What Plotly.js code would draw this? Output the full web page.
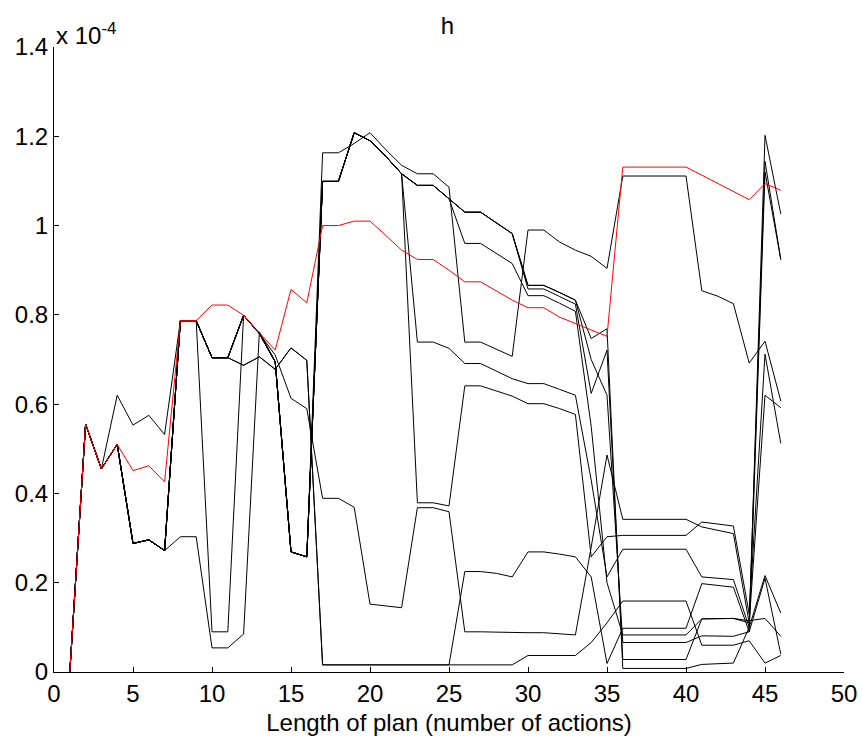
<!DOCTYPE html>
<html>
<head>
<meta charset="utf-8">
<script src="https://cdn.plot.ly/plotly-3.0.1.min.js"></script>
<style>html,body{margin:0;padding:0;background:#fff;}#chart{width:862px;height:740px;}</style>
</head>
<body>
<div id="chart"></div>
<script>
// Length of plan (number of actions)
const planLength = [1,2,3,4,5,6,7,8,9,10,11,12,13,14,15,16,17,18,19,20,21,22,23,24,25,26,27,28,29,30,31,32,33,34,35,36,37,38,39,40,41,42,43,44,45,46];

// values in units of 1e-4
const seriesRed = [0,0.555,0.455,0.51,0.451,0.462,0.426,0.787,0.787,
  0.822,0.822,0.799,0.76,0.721,0.857,0.827,
  1.0,1.0,1.01,1.01,0.978,0.945,0.924,0.924,0.90,
  0.874,0.874,0.853,0.833,0.816,0.816,0.795,0.78,0.766,0.752,
  1.131,1.131,1.131,1.131,1.131,
  1.113,1.095,1.077,
  1.058,1.094,1.079];

const seriesTop = [0,0.555,0.455,0.62,0.553,0.575,0.532,0.787,0.787,
  0.704,0.704,0.799,0.758,0.695,0.269,0.258,
  1.163,1.163,1.184,1.208,1.17,1.135,1.116,1.116,1.086,
  0.739,0.739,0.723,0.707,0.99,0.99,0.963,0.945,0.931,0.904,
  1.111,1.111,1.111,1.111,1.111,
  0.854,0.842,0.825,
  0.692,0.741,0.607];

const seriesT2a = [0,0.555,0.455,0.51,0.288,0.296,0.272,0.787,0.787,
  0.704,0.704,0.799,0.758,0.695,0.269,0.258,
  1.099,1.099,1.208,1.19,1.155,1.116,1.09,1.09,1.06,
  1.03,1.03,1.006,0.982,0.866,0.866,0.85,0.833,0.747,0.769,
  0.008,0.008,0.008,0.008,0.008,
  0.017,0.018,0.02,
  0.1,1.202,1.026];

const seriesT2b = [0,0.555,0.455,0.51,0.288,0.296,0.272,0.787,0.787,
  0.09,0.09,0.799,0.758,0.695,0.269,0.258,
  1.099,1.099,1.208,1.19,1.155,1.116,1.09,1.09,1.06,
  1.03,1.03,1.006,0.982,0.858,0.858,0.841,0.824,0.624,0.721,
  0.028,0.028,0.028,0.028,0.028,
  0.119,0.12,0.12,
  0.11,1.144,0.924];

const seriesL96 = [0,0.555,0.455,0.51,0.288,0.296,0.272,0.303,0.303,
  0.054,0.054,0.085,0.762,0.695,0.269,0.258,
  1.099,1.099,1.208,1.19,1.155,1.116,1.09,1.09,1.06,
  0.96,0.96,0.938,0.915,0.843,0.843,0.826,0.808,0.55,0.2,
  0.083,0.083,0.083,0.083,0.083,
  0.119,0.12,0.12,
  0.115,0.12,0.08];

const seriesExtra = [0,0.555,0.455,0.51,0.288,0.296,0.272,0.787,0.787,
  0.704,0.704,0.799,0.758,0.695,0.269,0.258,
  1.099,1.099,1.208,1.19,1.155,1.116,1.09,1.09,1.06,
  1.03,1.03,1.006,0.982,0.866,0.866,0.85,0.833,0.70,0.62,
  0.066,0.066,0.066,0.066,0.066,
  0.081,0.08,0.08,
  0.09,1.12,0.924];

const seriesQ1 = [0,0.555,0.455,0.51,0.288,0.296,0.272,0.787,0.787,
  0.704,0.704,0.799,0.758,0.695,0.269,0.258,
  1.099,1.099,1.208,1.19,1.155,1.116,0.379,0.379,0.372,
  0.641,0.641,0.63,0.618,0.601,0.601,0.59,0.577,0.258,0.303,
  0.306,0.306,0.306,0.306,0.306,
  0.336,0.332,0.327,
  0.13,0.712,0.512];

const seriesQ2 = [0,0.555,0.455,0.51,0.288,0.296,0.272,0.787,0.787,
  0.704,0.704,0.799,0.758,0.695,0.269,0.258,
  1.099,1.099,1.208,1.19,1.155,1.116,0.739,0.739,0.725,
  0.691,0.691,0.674,0.657,0.646,0.646,0.633,0.62,0.43,0.213,
  0.275,0.275,0.275,0.275,0.275,
  0.213,0.21,0.207,
  0.1,0.216,0.132];

const seriesPb = [0,0.555,0.455,0.51,0.288,0.296,0.272,0.787,0.787,
  0.704,0.704,0.687,0.706,0.678,0.726,0.698,
  0.016,0.016,0.016,0.016,0.016,0.016,0.016,0.016,0.016,
  0.225,0.225,0.221,0.213,0.269,0.269,0.264,0.258,0.213,0.019,
  0.098,0.098,0.098,0.098,0.098,
  0.198,0.194,0.19,
  0.09,0.21,0.04];

const seriesPb2 = [0,0.555,0.455,0.51,0.288,0.296,0.272,0.787,0.787,
  0.704,0.704,0.687,0.706,0.678,0.726,0.698,
  0.016,0.016,0.016,0.016,0.016,0.016,0.016,0.016,0.016,
  0.016,0.016,0.016,0.016,0.037,0.037,0.037,0.037,0.066,0.11,
  0.159,0.159,0.159,0.159,0.159,
  0.06,0.06,0.06,
  0.07,0.02,0.037];

const seriesPc = [0,0.555,0.455,0.51,0.288,0.296,0.272,0.787,0.787,
  0.704,0.704,0.799,0.758,0.71,0.613,0.59,
  0.389,0.389,0.369,0.152,0.148,0.144,0.368,0.368,0.359,
  0.09,0.09,0.089,0.088,0.088,0.088,0.085,0.083,0.28,0.486,
  0.342,0.342,0.342,0.342,0.342,
  0.325,0.318,0.31,
  0.11,0.62,0.592];

const xTickVals = [0,5,10,15,20,25,30,35,40,45,50];
const yTickVals = [0,0.2,0.4,0.6,0.8,1,1.2,1.4];
const yTickText = ['0','0.2','0.4','0.6','0.8','1','1.2','1.4'];

const blackSeries = [seriesTop, seriesT2a, seriesT2b, seriesL96, seriesExtra, seriesQ1, seriesQ2, seriesPb, seriesPb2, seriesPc];

const traces = blackSeries.map(s => ({
  x: planLength, y: s, type: 'scatter', mode: 'lines',
  line: {color: '#000000', width: 1}, hoverinfo: 'skip'
}));
traces.push({x: planLength, y: seriesRed, type: 'scatter', mode: 'lines',
  line: {color: '#ff0000', width: 1}, hoverinfo: 'skip'});

const fontFam = 'Liberation Sans, Arial, Helvetica, sans-serif';
const fs = 24;
const layout = {
  width: 862, height: 740,
  margin: {l: 54, r: 18, t: 47, b: 68, pad: 0},
  paper_bgcolor: '#ffffff', plot_bgcolor: '#ffffff',
  showlegend: false,
  font: {family: fontFam, size: fs, color: '#000'},
  title: {text: 'h', xref: 'container', x: 0.519, xanchor: 'center', yref: 'container', y: 0.966, yanchor: 'middle', font: {family: fontFam, size: fs, color: '#000'}},
  xaxis: {
    range: [0, 50], tickvals: xTickVals, ticktext: xTickVals.map(String),
    ticks: 'inside', ticklen: 5, tickwidth: 1, tickcolor: '#000',
    showline: true, linecolor: '#000', linewidth: 1, mirror: false,
    showgrid: false, zeroline: false,
    tickfont: {family: fontFam, size: fs, color: '#000'},
    title: {text: 'Length of plan (number of actions)', standoff: 8, font: {family: fontFam, size: fs, color: '#000'}}
  },
  yaxis: {
    range: [0, 1.4], tickvals: yTickVals, ticktext: yTickText,
    ticks: 'inside', ticklen: 5, tickwidth: 1, tickcolor: '#000',
    showline: true, linecolor: '#000', linewidth: 1, mirror: false,
    showgrid: false, zeroline: false,
    tickfont: {family: fontFam, size: fs, color: '#000'}
  },
  annotations: [{
    text: 'x 10<sup>-4</sup>', xref: 'paper', yref: 'paper', x: 0, y: 1,
    xanchor: 'left', yanchor: 'bottom', showarrow: false, yshift: -4,
    font: {family: fontFam, size: fs, color: '#000'}
  }]
};

Plotly.newPlot('chart', traces, layout, {displayModeBar: false, staticPlot: true});
</script>
</body>
</html>
